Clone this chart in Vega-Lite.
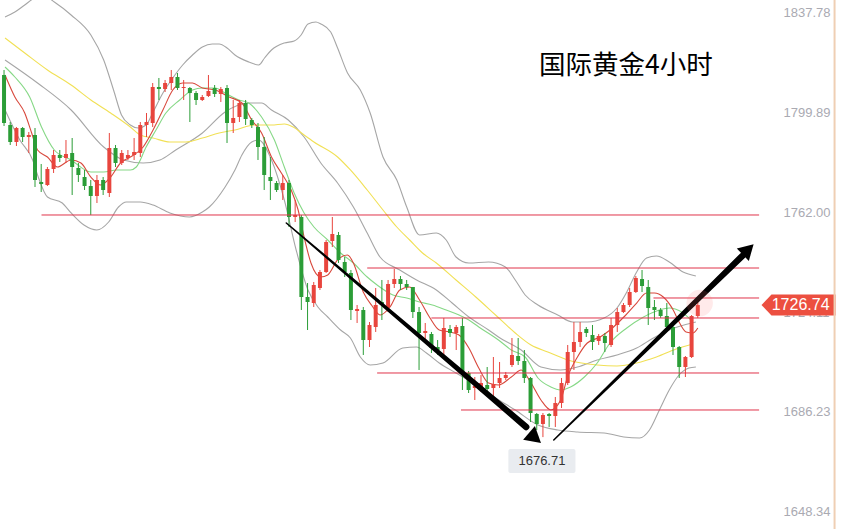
{
"$schema": "https://vega.github.io/schema/vega-lite/v6.json",
"width": 770, "height": 529,
"autosize": {"type": "none"},
"padding": {"left": 0, "top": 0, "right": 73, "bottom": 0},
"background": "white",
"config": {"view": {"stroke": null}, "font": "Liberation Sans"},
"datasets": {
"candles": [
{"i":0,"o":1813.91,"h":1815.81,"l":1794.59,"c":1795.73},
{"i":1,"o":1794.97,"h":1796.10,"l":1787.39,"c":1788.53},
{"i":2,"o":1788.53,"h":1794.21,"l":1787.01,"c":1793.83},
{"i":3,"o":1793.83,"h":1794.21,"l":1788.53,"c":1790.42},
{"i":4,"o":1790.42,"h":1792.32,"l":1784.36,"c":1791.18},
{"i":5,"o":1791.18,"h":1793.83,"l":1771.48,"c":1774.13},
{"i":6,"o":1773.37,"h":1780.19,"l":1769.58,"c":1772.61},
{"i":7,"o":1772.23,"h":1779.05,"l":1771.85,"c":1778.30},
{"i":8,"o":1778.30,"h":1785.49,"l":1776.78,"c":1783.60},
{"i":9,"o":1783.60,"h":1785.49,"l":1780.95,"c":1782.46},
{"i":10,"o":1782.46,"h":1789.28,"l":1780.57,"c":1783.98},
{"i":11,"o":1784.36,"h":1790.04,"l":1768.44,"c":1779.05},
{"i":12,"o":1778.67,"h":1780.57,"l":1773.37,"c":1776.02},
{"i":13,"o":1775.26,"h":1777.92,"l":1770.34,"c":1771.85},
{"i":14,"o":1771.85,"h":1774.13,"l":1760.87,"c":1768.07},
{"i":15,"o":1768.07,"h":1776.02,"l":1765.41,"c":1774.13},
{"i":16,"o":1774.13,"h":1775.26,"l":1768.44,"c":1770.34},
{"i":17,"o":1769.20,"h":1791.94,"l":1767.69,"c":1786.25},
{"i":18,"o":1786.25,"h":1787.39,"l":1779.05,"c":1780.57},
{"i":19,"o":1780.57,"h":1785.49,"l":1779.81,"c":1784.36},
{"i":20,"o":1782.46,"h":1785.49,"l":1781.71,"c":1783.60},
{"i":21,"o":1783.60,"h":1790.04,"l":1781.71,"c":1784.74},
{"i":22,"o":1784.36,"h":1796.10,"l":1782.84,"c":1794.97},
{"i":23,"o":1794.97,"h":1799.51,"l":1790.42,"c":1796.10},
{"i":24,"o":1795.73,"h":1810.88,"l":1794.21,"c":1809.37},
{"i":25,"o":1809.37,"h":1812.78,"l":1804.44,"c":1808.61},
{"i":26,"o":1808.61,"h":1812.02,"l":1807.47,"c":1810.88},
{"i":27,"o":1810.88,"h":1815.81,"l":1808.23,"c":1813.15},
{"i":28,"o":1813.15,"h":1814.67,"l":1808.23,"c":1808.99},
{"i":29,"o":1808.99,"h":1812.02,"l":1804.44,"c":1809.37},
{"i":30,"o":1808.99,"h":1809.37,"l":1796.10,"c":1807.09},
{"i":31,"o":1807.09,"h":1807.85,"l":1802.55,"c":1804.44},
{"i":32,"o":1804.44,"h":1806.34,"l":1804.06,"c":1805.58},
{"i":33,"o":1805.96,"h":1813.91,"l":1805.58,"c":1807.85},
{"i":34,"o":1808.99,"h":1810.12,"l":1805.58,"c":1806.71},
{"i":35,"o":1806.71,"h":1809.37,"l":1803.68,"c":1808.61},
{"i":36,"o":1808.99,"h":1810.12,"l":1788.15,"c":1795.73},
{"i":37,"o":1795.73,"h":1804.44,"l":1791.94,"c":1797.62},
{"i":38,"o":1798.00,"h":1804.44,"l":1796.10,"c":1803.30},
{"i":39,"o":1803.30,"h":1804.44,"l":1794.97,"c":1797.24},
{"i":40,"o":1796.86,"h":1797.62,"l":1793.83,"c":1794.97},
{"i":41,"o":1794.21,"h":1795.73,"l":1781.71,"c":1786.63},
{"i":42,"o":1786.63,"h":1790.42,"l":1770.34,"c":1776.02},
{"i":43,"o":1775.26,"h":1782.84,"l":1766.55,"c":1773.75},
{"i":44,"o":1772.99,"h":1773.75,"l":1769.58,"c":1770.34},
{"i":45,"o":1770.34,"h":1776.02,"l":1766.55,"c":1772.99},
{"i":46,"o":1772.99,"h":1774.13,"l":1756.32,"c":1760.11},
{"i":47,"o":1760.11,"h":1766.55,"l":1758.21,"c":1760.87},
{"i":48,"o":1760.11,"h":1760.87,"l":1724.87,"c":1729.80},
{"i":49,"o":1729.80,"h":1735.10,"l":1717.29,"c":1727.90},
{"i":50,"o":1727.52,"h":1735.48,"l":1726.01,"c":1734.34},
{"i":51,"o":1733.21,"h":1740.03,"l":1732.45,"c":1739.27},
{"i":52,"o":1739.27,"h":1751.39,"l":1738.89,"c":1750.64},
{"i":53,"o":1751.02,"h":1760.11,"l":1748.74,"c":1753.67},
{"i":54,"o":1753.29,"h":1754.43,"l":1742.68,"c":1743.82},
{"i":55,"o":1743.06,"h":1744.95,"l":1737.37,"c":1739.27},
{"i":56,"o":1738.89,"h":1740.03,"l":1721.08,"c":1724.87},
{"i":57,"o":1724.49,"h":1726.77,"l":1719.95,"c":1725.25},
{"i":58,"o":1724.87,"h":1726.01,"l":1707.82,"c":1713.50},
{"i":59,"o":1713.50,"h":1720.32,"l":1710.85,"c":1719.19},
{"i":60,"o":1718.43,"h":1733.21,"l":1716.54,"c":1726.77},
{"i":61,"o":1727.90,"h":1736.24,"l":1721.08,"c":1726.77},
{"i":62,"o":1725.63,"h":1736.24,"l":1724.11,"c":1734.72},
{"i":63,"o":1734.72,"h":1740.41,"l":1733.21,"c":1736.62},
{"i":64,"o":1736.62,"h":1737.75,"l":1732.45,"c":1734.72},
{"i":65,"o":1734.72,"h":1736.24,"l":1732.45,"c":1733.59},
{"i":66,"o":1733.59,"h":1733.59,"l":1721.84,"c":1724.11},
{"i":67,"o":1724.11,"h":1726.01,"l":1702.14,"c":1716.16},
{"i":68,"o":1716.16,"h":1719.95,"l":1713.50,"c":1716.91},
{"i":69,"o":1715.78,"h":1716.54,"l":1708.58,"c":1710.47},
{"i":70,"o":1710.85,"h":1713.50,"l":1707.82,"c":1709.71},
{"i":71,"o":1710.09,"h":1721.84,"l":1707.82,"c":1718.05},
{"i":72,"o":1717.67,"h":1719.19,"l":1714.64,"c":1716.16},
{"i":73,"o":1716.16,"h":1719.19,"l":1709.71,"c":1718.43},
{"i":74,"o":1718.81,"h":1721.84,"l":1694.56,"c":1701.00},
{"i":75,"o":1701.00,"h":1701.76,"l":1693.42,"c":1694.56},
{"i":76,"o":1695.32,"h":1699.48,"l":1690.77,"c":1696.07},
{"i":77,"o":1695.32,"h":1700.24,"l":1693.80,"c":1697.21},
{"i":78,"o":1696.45,"h":1703.27,"l":1692.29,"c":1694.94},
{"i":79,"o":1695.32,"h":1707.06,"l":1691.91,"c":1696.83},
{"i":80,"o":1697.21,"h":1705.17,"l":1695.32,"c":1699.11},
{"i":81,"o":1699.11,"h":1701.38,"l":1698.35,"c":1700.24},
{"i":82,"o":1704.03,"h":1714.26,"l":1703.27,"c":1707.82},
{"i":83,"o":1707.44,"h":1714.26,"l":1704.03,"c":1705.55},
{"i":84,"o":1705.55,"h":1709.71,"l":1697.21,"c":1699.11},
{"i":85,"o":1699.11,"h":1699.48,"l":1682.43,"c":1685.84},
{"i":86,"o":1685.47,"h":1685.84,"l":1679.40,"c":1681.68},
{"i":87,"o":1681.68,"h":1685.84,"l":1676.71,"c":1685.09},
{"i":88,"o":1685.47,"h":1685.84,"l":1680.54,"c":1684.71},
{"i":89,"o":1684.71,"h":1691.91,"l":1680.54,"c":1689.63},
{"i":90,"o":1689.63,"h":1699.11,"l":1687.74,"c":1697.21},
{"i":91,"o":1697.21,"h":1711.61,"l":1696.45,"c":1708.96},
{"i":92,"o":1708.96,"h":1720.32,"l":1702.14,"c":1712.75},
{"i":93,"o":1712.75,"h":1720.32,"l":1710.85,"c":1716.54},
{"i":94,"o":1717.67,"h":1718.43,"l":1714.64,"c":1716.16},
{"i":95,"o":1715.40,"h":1719.19,"l":1709.71,"c":1712.75},
{"i":96,"o":1713.13,"h":1715.78,"l":1711.61,"c":1715.02},
{"i":97,"o":1715.02,"h":1716.16,"l":1708.96,"c":1712.37},
{"i":98,"o":1711.61,"h":1721.84,"l":1710.85,"c":1719.19},
{"i":99,"o":1719.19,"h":1725.63,"l":1716.54,"c":1724.11},
{"i":100,"o":1724.11,"h":1727.52,"l":1723.73,"c":1726.77},
{"i":101,"o":1726.77,"h":1733.21,"l":1726.01,"c":1731.69},
{"i":102,"o":1731.69,"h":1737.75,"l":1731.31,"c":1737.00},
{"i":103,"o":1736.62,"h":1740.03,"l":1731.69,"c":1733.96},
{"i":104,"o":1733.59,"h":1736.24,"l":1719.19,"c":1725.63},
{"i":105,"o":1726.01,"h":1728.66,"l":1721.08,"c":1724.87},
{"i":106,"o":1724.87,"h":1725.63,"l":1721.84,"c":1722.60},
{"i":107,"o":1722.60,"h":1727.52,"l":1718.05,"c":1718.43},
{"i":108,"o":1718.43,"h":1719.19,"l":1707.82,"c":1710.85},
{"i":109,"o":1710.85,"h":1711.23,"l":1699.11,"c":1703.27},
{"i":110,"o":1703.27,"h":1707.44,"l":1699.48,"c":1707.06},
{"i":111,"o":1707.06,"h":1722.98,"l":1706.68,"c":1722.60},
{"i":112,"o":1722.60,"h":1727.90,"l":1721.84,"c":1726.74}
],
"lines": [
{"s":"U","t":0.16,"v":1835.89},{"s":"U","t":1.75,"v":1837.78},{"s":"U","t":3.34,"v":1840.44},{"s":"U","t":4.94,"v":1843.09},{"s":"U","t":6.53,"v":1843.85},{"s":"U","t":8.12,"v":1841.57},{"s":"U","t":10.83,"v":1836.65},{"s":"U","t":14.02,"v":1829.07},{"s":"U","t":16.09,"v":1819.60},{"s":"U","t":17.68,"v":1808.23},{"s":"U","t":18.96,"v":1798.76},{"s":"U","t":20.39,"v":1794.97},{"s":"U","t":21.67,"v":1793.83},{"s":"U","t":22.94,"v":1794.97},{"s":"U","t":24.06,"v":1799.89},{"s":"U","t":25.65,"v":1807.09},{"s":"U","t":27.24,"v":1812.78},{"s":"U","t":28.84,"v":1817.70},{"s":"U","t":30.43,"v":1821.49},{"s":"U","t":32.02,"v":1824.52},{"s":"U","t":33.62,"v":1825.66},{"s":"U","t":34.73,"v":1825.66},{"s":"U","t":36.01,"v":1824.14},{"s":"U","t":37.28,"v":1821.49},{"s":"U","t":39.51,"v":1818.84},{"s":"U","t":41.11,"v":1817.70},{"s":"U","t":42.06,"v":1820.35},{"s":"U","t":43.18,"v":1823.39},{"s":"U","t":45.25,"v":1826.04},{"s":"U","t":46.84,"v":1826.80},{"s":"U","t":47.96,"v":1829.07},{"s":"U","t":49.07,"v":1833.24},{"s":"U","t":50.35,"v":1834.00},{"s":"U","t":51.14,"v":1833.24},{"s":"U","t":52.74,"v":1830.20},{"s":"U","t":53.85,"v":1824.14},{"s":"U","t":55.45,"v":1814.67},{"s":"U","t":57.52,"v":1808.23},{"s":"U","t":59.11,"v":1799.51},{"s":"U","t":61.18,"v":1782.84},{"s":"U","t":63.41,"v":1774.13},{"s":"U","t":65.01,"v":1763.90},{"s":"U","t":67.08,"v":1753.29},{"s":"U","t":69.79,"v":1754.05},{"s":"U","t":71.38,"v":1751.39},{"s":"U","t":72.97,"v":1744.95},{"s":"U","t":75.04,"v":1742.68},{"s":"U","t":78.23,"v":1743.06},{"s":"U","t":80.94,"v":1741.17},{"s":"U","t":82.53,"v":1736.24},{"s":"U","t":84.13,"v":1730.56},{"s":"U","t":86.20,"v":1726.77},{"s":"U","t":89.39,"v":1722.98},{"s":"U","t":91.77,"v":1720.32},{"s":"U","t":94.16,"v":1720.32},{"s":"U","t":96.87,"v":1721.84},{"s":"U","t":98.95,"v":1725.63},{"s":"U","t":100.54,"v":1731.69},{"s":"U","t":102.13,"v":1739.27},{"s":"U","t":103.73,"v":1744.57},{"s":"U","t":105.32,"v":1745.33},{"s":"U","t":107.39,"v":1743.06},{"s":"U","t":109.62,"v":1739.27},{"s":"U","t":111.69,"v":1737.75},
{"s":"M","t":0.16,"v":1819.60},{"s":"M","t":5.41,"v":1810.88},{"s":"M","t":10.83,"v":1800.65},{"s":"M","t":16.09,"v":1786.63},{"s":"M","t":19.28,"v":1781.71},{"s":"M","t":22.46,"v":1780.57},{"s":"M","t":25.17,"v":1781.71},{"s":"M","t":27.72,"v":1785.50},{"s":"M","t":32.02,"v":1791.94},{"s":"M","t":35.69,"v":1799.89},{"s":"M","t":39.51,"v":1803.30},{"s":"M","t":41.58,"v":1803.30},{"s":"M","t":43.18,"v":1800.65},{"s":"M","t":45.89,"v":1796.86},{"s":"M","t":48.44,"v":1790.42},{"s":"M","t":51.14,"v":1780.57},{"s":"M","t":53.85,"v":1772.99},{"s":"M","t":56.40,"v":1763.90},{"s":"M","t":58.63,"v":1754.05},{"s":"M","t":60.70,"v":1744.95},{"s":"M","t":63.89,"v":1740.03},{"s":"M","t":66.60,"v":1736.24},{"s":"M","t":69.79,"v":1732.45},{"s":"M","t":72.34,"v":1727.52},{"s":"M","t":75.04,"v":1722.22},{"s":"M","t":78.23,"v":1717.29},{"s":"M","t":79.82,"v":1714.64},{"s":"M","t":83.49,"v":1709.71},{"s":"M","t":86.68,"v":1703.27},{"s":"M","t":89.86,"v":1702.14},{"s":"M","t":92.57,"v":1703.27},{"s":"M","t":95.76,"v":1705.93},{"s":"M","t":98.95,"v":1707.82},{"s":"M","t":102.13,"v":1710.47},{"s":"M","t":104.84,"v":1714.26},{"s":"M","t":107.39,"v":1717.29},{"s":"M","t":111.69,"v":1720.32},
{"s":"L","t":0.16,"v":1800.65},{"s":"L","t":2.55,"v":1789.28},{"s":"L","t":4.62,"v":1781.71},{"s":"L","t":5.41,"v":1776.02},{"s":"L","t":7.01,"v":1767.69},{"s":"L","t":9.40,"v":1765.41},{"s":"L","t":10.83,"v":1761.63},{"s":"L","t":12.90,"v":1757.08},{"s":"L","t":14.97,"v":1755.18},{"s":"L","t":16.89,"v":1758.21},{"s":"L","t":18.48,"v":1763.90},{"s":"L","t":19.75,"v":1765.79},{"s":"L","t":21.99,"v":1765.79},{"s":"L","t":24.06,"v":1764.65},{"s":"L","t":26.77,"v":1761.63},{"s":"L","t":29.95,"v":1760.11},{"s":"L","t":32.02,"v":1762.00},{"s":"L","t":33.14,"v":1763.90},{"s":"L","t":35.69,"v":1771.48},{"s":"L","t":37.28,"v":1777.92},{"s":"L","t":38.40,"v":1783.60},{"s":"L","t":39.99,"v":1788.53},{"s":"L","t":41.11,"v":1789.28},{"s":"L","t":43.18,"v":1781.71},{"s":"L","t":45.25,"v":1766.55},{"s":"L","t":47.16,"v":1747.60},{"s":"L","t":49.07,"v":1732.45},{"s":"L","t":50.67,"v":1725.99},{"s":"L","t":52.26,"v":1722.22},{"s":"L","t":54.33,"v":1717.29},{"s":"L","t":55.92,"v":1714.26},{"s":"L","t":57.52,"v":1707.06},{"s":"L","t":59.11,"v":1704.03},{"s":"L","t":61.18,"v":1704.79},{"s":"L","t":64.37,"v":1710.47},{"s":"L","t":66.60,"v":1710.85},{"s":"L","t":68.19,"v":1708.58},{"s":"L","t":70.26,"v":1704.79},{"s":"L","t":72.97,"v":1701.00},{"s":"L","t":76.16,"v":1696.45},{"s":"L","t":79.35,"v":1691.53},{"s":"L","t":82.53,"v":1686.98},{"s":"L","t":86.20,"v":1681.30},{"s":"L","t":89.39,"v":1679.40},{"s":"L","t":92.57,"v":1678.65},{"s":"L","t":96.87,"v":1678.27},{"s":"L","t":100.06,"v":1676.75},{"s":"L","t":102.61,"v":1676.37},{"s":"L","t":104.20,"v":1679.40},{"s":"L","t":105.80,"v":1686.98},{"s":"L","t":107.39,"v":1694.56},{"s":"L","t":108.98,"v":1700.24},{"s":"L","t":110.58,"v":1702.89},{"s":"L","t":111.69,"v":1703.27},
{"s":"Y","t":0.16,"v":1827.93},{"s":"Y","t":3.34,"v":1822.25},{"s":"Y","t":7.01,"v":1815.81},{"s":"Y","t":10.83,"v":1810.12},{"s":"Y","t":14.02,"v":1804.44},{"s":"Y","t":17.21,"v":1799.51},{"s":"Y","t":20.39,"v":1794.21},{"s":"Y","t":21.99,"v":1791.18},{"s":"Y","t":24.06,"v":1790.04},{"s":"Y","t":26.77,"v":1788.53},{"s":"Y","t":29.32,"v":1788.53},{"s":"Y","t":32.02,"v":1790.04},{"s":"Y","t":34.73,"v":1791.94},{"s":"Y","t":37.28,"v":1793.07},{"s":"Y","t":40.47,"v":1794.97},{"s":"Y","t":43.18,"v":1794.97},{"s":"Y","t":45.25,"v":1795.35},{"s":"Y","t":46.68,"v":1794.21},{"s":"Y","t":48.44,"v":1791.18},{"s":"Y","t":50.03,"v":1788.53},{"s":"Y","t":53.85,"v":1782.84},{"s":"Y","t":55.92,"v":1777.92},{"s":"Y","t":58.63,"v":1770.34},{"s":"Y","t":61.18,"v":1762.76},{"s":"Y","t":63.41,"v":1756.32},{"s":"Y","t":65.48,"v":1751.39},{"s":"Y","t":67.56,"v":1746.46},{"s":"Y","t":69.79,"v":1742.68},{"s":"Y","t":72.97,"v":1736.24},{"s":"Y","t":76.16,"v":1729.80},{"s":"Y","t":79.35,"v":1722.98},{"s":"Y","t":82.53,"v":1716.16},{"s":"Y","t":85.08,"v":1711.61},{"s":"Y","t":87.79,"v":1708.96},{"s":"Y","t":90.98,"v":1705.93},{"s":"Y","t":95.76,"v":1704.03},{"s":"Y","t":98.95,"v":1703.65},{"s":"Y","t":102.13,"v":1704.79},{"s":"Y","t":105.32,"v":1707.06},{"s":"Y","t":108.51,"v":1710.09},{"s":"Y","t":111.21,"v":1711.99},
{"s":"G","t":0.16,"v":1816.94},{"s":"G","t":1.75,"v":1813.15},{"s":"G","t":4.14,"v":1805.58},{"s":"G","t":6.05,"v":1794.21},{"s":"G","t":8.12,"v":1785.49},{"s":"G","t":10.83,"v":1781.71},{"s":"G","t":14.02,"v":1777.16},{"s":"G","t":16.09,"v":1777.16},{"s":"G","t":18.16,"v":1777.92},{"s":"G","t":20.39,"v":1777.92},{"s":"G","t":21.35,"v":1779.05},{"s":"G","t":22.94,"v":1786.63},{"s":"G","t":24.53,"v":1793.07},{"s":"G","t":26.13,"v":1799.51},{"s":"G","t":28.36,"v":1804.44},{"s":"G","t":30.43,"v":1808.23},{"s":"G","t":32.02,"v":1808.99},{"s":"G","t":34.10,"v":1808.99},{"s":"G","t":35.69,"v":1807.09},{"s":"G","t":37.92,"v":1804.44},{"s":"G","t":39.51,"v":1803.30},{"s":"G","t":41.58,"v":1797.98},{"s":"G","t":43.65,"v":1789.28},{"s":"G","t":45.25,"v":1779.05},{"s":"G","t":46.84,"v":1769.20},{"s":"G","t":48.44,"v":1761.62},{"s":"G","t":50.03,"v":1756.32},{"s":"G","t":52.26,"v":1751.39},{"s":"G","t":54.33,"v":1746.47},{"s":"G","t":56.40,"v":1742.68},{"s":"G","t":58.63,"v":1737.37},{"s":"G","t":60.23,"v":1734.34},{"s":"G","t":62.78,"v":1730.56},{"s":"G","t":65.01,"v":1729.42},{"s":"G","t":67.08,"v":1727.90},{"s":"G","t":69.15,"v":1726.77},{"s":"G","t":71.38,"v":1724.87},{"s":"G","t":73.45,"v":1722.98},{"s":"G","t":75.04,"v":1721.08},{"s":"G","t":76.64,"v":1718.43},{"s":"G","t":79.82,"v":1713.50},{"s":"G","t":81.90,"v":1709.71},{"s":"G","t":84.13,"v":1707.06},{"s":"G","t":86.20,"v":1699.11},{"s":"G","t":88.27,"v":1695.70},{"s":"G","t":89.86,"v":1694.56},{"s":"G","t":91.46,"v":1695.70},{"s":"G","t":93.69,"v":1699.48},{"s":"G","t":95.76,"v":1704.79},{"s":"G","t":97.83,"v":1712.37},{"s":"G","t":100.54,"v":1718.05},{"s":"G","t":103.25,"v":1722.22},{"s":"G","t":105.80,"v":1724.87},{"s":"G","t":107.39,"v":1725.63},{"s":"G","t":109.62,"v":1723.73},{"s":"G","t":111.21,"v":1720.32},
{"s":"R","t":0.16,"v":1813.91},{"s":"R","t":1.75,"v":1805.58},{"s":"R","t":3.34,"v":1799.51},{"s":"R","t":4.46,"v":1791.94},{"s":"R","t":5.41,"v":1785.49},{"s":"R","t":7.01,"v":1782.84},{"s":"R","t":8.60,"v":1779.05},{"s":"R","t":10.83,"v":1781.71},{"s":"R","t":12.42,"v":1780.57},{"s":"R","t":14.02,"v":1775.26},{"s":"R","t":15.61,"v":1772.23},{"s":"R","t":17.21,"v":1775.26},{"s":"R","t":18.80,"v":1780.57},{"s":"R","t":20.39,"v":1782.84},{"s":"R","t":22.46,"v":1786.63},{"s":"R","t":24.06,"v":1793.07},{"s":"R","t":25.65,"v":1800.65},{"s":"R","t":27.24,"v":1808.23},{"s":"R","t":28.84,"v":1810.88},{"s":"R","t":30.43,"v":1810.88},{"s":"R","t":32.02,"v":1808.99},{"s":"R","t":34.10,"v":1808.23},{"s":"R","t":36.33,"v":1805.58},{"s":"R","t":38.40,"v":1803.30},{"s":"R","t":39.99,"v":1796.86},{"s":"R","t":41.58,"v":1791.94},{"s":"R","t":43.18,"v":1782.84},{"s":"R","t":44.77,"v":1776.78},{"s":"R","t":46.36,"v":1770.34},{"s":"R","t":47.48,"v":1762.76},{"s":"R","t":48.44,"v":1752.53},{"s":"R","t":49.55,"v":1742.68},{"s":"R","t":51.14,"v":1737.37},{"s":"R","t":52.26,"v":1738.13},{"s":"R","t":53.85,"v":1743.82},{"s":"R","t":55.45,"v":1745.71},{"s":"R","t":56.40,"v":1742.68},{"s":"R","t":57.99,"v":1731.69},{"s":"R","t":59.43,"v":1726.39},{"s":"R","t":60.70,"v":1722.98},{"s":"R","t":62.30,"v":1726.01},{"s":"R","t":63.89,"v":1732.45},{"s":"R","t":65.48,"v":1733.59},{"s":"R","t":67.08,"v":1728.66},{"s":"R","t":68.67,"v":1722.22},{"s":"R","t":70.26,"v":1717.29},{"s":"R","t":71.86,"v":1716.54},{"s":"R","t":73.45,"v":1715.40},{"s":"R","t":75.04,"v":1710.47},{"s":"R","t":76.64,"v":1702.89},{"s":"R","t":78.23,"v":1697.21},{"s":"R","t":79.82,"v":1696.45},{"s":"R","t":81.90,"v":1699.48},{"s":"R","t":83.49,"v":1702.14},{"s":"R","t":85.08,"v":1697.21},{"s":"R","t":86.68,"v":1690.77},{"s":"R","t":88.27,"v":1686.98},{"s":"R","t":89.86,"v":1690.77},{"s":"R","t":90.98,"v":1699.48},{"s":"R","t":92.57,"v":1707.06},{"s":"R","t":94.16,"v":1712.37},{"s":"R","t":96.24,"v":1714.64},{"s":"R","t":97.83,"v":1717.29},{"s":"R","t":100.06,"v":1722.22},{"s":"R","t":102.13,"v":1727.52},{"s":"R","t":103.73,"v":1731.31},{"s":"R","t":105.00,"v":1731.31},{"s":"R","t":106.43,"v":1729.80},{"s":"R","t":108.03,"v":1724.87},{"s":"R","t":108.98,"v":1720.32},{"s":"R","t":110.10,"v":1716.54},{"s":"R","t":111.21,"v":1716.16},{"s":"R","t":112.01,"v":1718.05}
],
"levels": [
{"v":1760.87,"from":6.05},
{"v":1740.78,"from":58.63},
{"v":1729.42,"from":104.84},
{"v":1721.84,"from":68.99},
{"v":1701.00,"from":60.23},
{"v":1686.98,"from":73.77}
],
"arrows": [
{"arrow":1,"pos":0,"t":45.57,"v":1757.84},
{"arrow":1,"pos":1,"t":84.29,"v":1680.54},
{"arrow":2,"pos":0,"t":88.75,"v":1675.61},
{"arrow":2,"pos":1,"t":119.18,"v":1745.33}
]
},
"layer": [
{
"data": {"name": "lines"},
"mark": {"type": "line", "interpolate": "monotone", "strokeWidth": 1.1, "clip": true},
"encoding": {
"x": {"field": "t", "type": "quantitative", "scale": {"domain": [0.156, 122.85], "nice": false, "zero": false}, "axis": null},
"y": {"field": "v", "type": "quantitative", "scale": {"domain": [1641.89, 1842.33], "nice": false, "zero": false},
"axis": {"orient": "right", "values": [1648.34, 1686.23, 1724.11, 1762.00, 1799.89, 1837.78], "format": ".2f", "title": null, "domain": false, "ticks": false, "grid": false, "labelPadding": 13, "labelFontSize": 13, "labelColor": "#aaaab2", "labelFont": "Liberation Sans", "labelBaseline": "middle", "labelAlign": "left"}},
"color": {"field": "s", "type": "nominal", "legend": null, "scale": {"domain": ["U","M","L","Y","G","R"], "range": ["#a6a6a6","#a6a6a6","#a6a6a6","#f1e055","#86d886","#d8483c"]}}
}
},
{
"data": {"name": "candles"},
"mark": {"type": "rule", "strokeWidth": 1},
"encoding": {
"x": {"field": "i", "type": "quantitative", "scale": {"domain": [0.156, 122.85], "nice": false, "zero": false}, "axis": null},
"y": {"field": "l", "type": "quantitative", "scale": {"domain": [1641.89, 1842.33], "nice": false, "zero": false}},
"y2": {"field": "h"},
"color": {"condition": {"test": "datum.c >= datum.o", "value": "#e8453d"}, "value": "#2b9d37"}
}
},
{
"data": {"name": "candles"},
"mark": {"type": "bar", "width": 4},
"encoding": {
"x": {"field": "i", "type": "quantitative", "scale": {"domain": [0.156, 122.85], "nice": false, "zero": false}, "axis": null},
"y": {"field": "o", "type": "quantitative", "scale": {"domain": [1641.89, 1842.33], "nice": false, "zero": false}},
"y2": {"field": "c"},
"color": {"condition": {"test": "datum.c >= datum.o", "value": "#e8453d"}, "value": "#2b9d37"}
}
},
{
"data": {"name": "levels"},
"mark": {"type": "rule", "strokeWidth": 1, "color": "#e0344a"},
"encoding": {
"x": {"field": "from", "type": "quantitative", "scale": {"domain": [0.156, 122.85], "nice": false, "zero": false}, "axis": null},
"x2": {"datum": 121.9},
"y": {"field": "v", "type": "quantitative", "scale": {"domain": [1641.89, 1842.33], "nice": false, "zero": false}}
}
},
{
"data": {"name": "arrows"},
"mark": {"type": "trail", "color": "#000000"},
"encoding": {
"x": {"field": "t", "type": "quantitative", "scale": {"domain": [0.156, 122.85], "nice": false, "zero": false}, "axis": null},
"y": {"field": "v", "type": "quantitative", "scale": {"domain": [1641.89, 1842.33], "nice": false, "zero": false}},
"detail": {"field": "arrow", "type": "nominal"},
"order": {"field": "pos", "type": "quantitative"},
"size": {"field": "pos", "type": "quantitative", "legend": null, "scale": {"domain": [0, 1], "range": [1.5, 6.5]}}
}
},
{
"data": {"values": [{}]},
"mark": {"type": "point", "shape": "triangle-right", "filled": true, "opacity": 1, "color": "#000000", "size": 330, "angle": 40.5},
"encoding": {
"x": {"datum": 85.72, "type": "quantitative", "axis": null},
"y": {"datum": 1676.37, "type": "quantitative"}
}
},
{
"data": {"values": [{}]},
"mark": {"type": "point", "shape": "triangle-right", "filled": true, "opacity": 1, "color": "#000000", "size": 300, "angle": 316},
"encoding": {
"x": {"datum": 120.14, "type": "quantitative", "axis": null},
"y": {"datum": 1747.8, "type": "quantitative"}
}
},
{
"data": {"values": [{}]},
"mark": {"type": "text", "text": "国际黄金4小时", "font": "Noto Sans CJK SC", "fontSize": 26.5, "align": "left", "baseline": "middle", "color": "#000000"},
"encoding": {
"x": {"datum": 86.36, "type": "quantitative", "axis": null},
"y": {"datum": 1817.32, "type": "quantitative"}
}
},
{
"data": {"values": [{}]},
"mark": {"type": "rect", "color": "#e9ecf0", "cornerRadius": 2},
"encoding": {
"x": {"datum": 81.42, "type": "quantitative", "axis": null},
"x2": {"datum": 92.25},
"y": {"datum": 1672.20, "type": "quantitative"},
"y2": {"datum": 1663.11}
}
},
{
"data": {"values": [{}]},
"mark": {"type": "text", "text": "1676.71", "fontSize": 13, "align": "center", "baseline": "middle", "color": "#333333"},
"encoding": {
"x": {"datum": 86.84, "type": "quantitative", "axis": null},
"y": {"datum": 1667.65, "type": "quantitative"}
}
},
{
"data": {"values": [{}]},
"mark": {"type": "point", "shape": "circle", "filled": true, "color": "#ff7070", "opacity": 0.15, "size": 700},
"encoding": {
"x": {"datum": 112.3, "type": "quantitative", "axis": null},
"y": {"datum": 1727.5, "type": "quantitative"}
}
},
{
"data": {"values": [{}]},
"mark": {"type": "point", "shape": "M -1 0 L -0.73 -0.284 L 1 -0.284 L 1 0.284 L -0.73 0.284 Z", "filled": true, "opacity": 1, "color": "#ec4f40", "size": 5476, "clip": false},
"encoding": {
"x": {"datum": 128.26, "type": "quantitative", "axis": null},
"y": {"datum": 1726.74, "type": "quantitative"}
}
},
{
"data": {"values": [{}]},
"mark": {"type": "text", "text": "1726.74", "fontSize": 16, "align": "center", "baseline": "middle", "color": "#ffffff", "clip": false},
"encoding": {
"x": {"datum": 128.6, "type": "quantitative", "axis": null},
"y": {"datum": 1726.74, "type": "quantitative"}
}
},
{
"data": {"values": [{}]},
"mark": {"type": "rule", "color": "#efcfb4", "strokeWidth": 2, "clip": false},
"encoding": {
"x": {"datum": 134.08, "type": "quantitative", "axis": null}
}
}
]
}
